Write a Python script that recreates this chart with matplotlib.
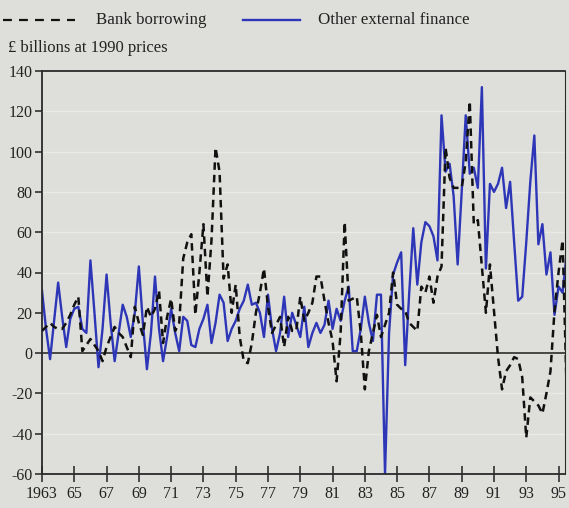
import numpy as np
import matplotlib.pyplot as plt
from matplotlib.lines import Line2D

# Quarterly observations, 1963 Q1 onwards, £ billions at 1990 prices
start_year = 1963
bank_borrowing = [
    11, 13, 15, 13,    # 1963
    12, 12, 15, 19,    # 1964
    24, 28, 1, 4,      # 1965
    7, 4, 1, -4,       # 1966
    3, 8, 13, 10,      # 1967
    8, 3, -2, 23,      # 1968
    15, 9, 23, 18,     # 1969
    22, 31, 5, 18,     # 1970
    27, 11, 15, 47,    # 1971
    55, 59, 19, 40,    # 1972
    64, 28, 56, 102,   # 1973
    90, 37, 44, 20,    # 1974
    34, 8, -4, -5,     # 1975
    5, 20, 30, 42,     # 1976
    23, 10, 14, 18,    # 1977
    3, 18, 11, 11,     # 1978
    28, 16, 20, 25,    # 1979
    38, 38, 26, 15,    # 1980
    6, -14, 10, 65,    # 1981
    26, 27, 28, 10,    # 1982
    -18, 1, 10, 19,    # 1983
    8, 14, 20, 40,     # 1984
    24, 22, 21, 15,    # 1985
    13, 11, 33, 30,    # 1986
    38, 25, 38, 43,    # 1987
    102, 87, 82, 82,   # 1988
    82, 95, 125, 64,   # 1989
    66, 43, 20, 44,    # 1990
    21, -2, -18, -9,   # 1991
    -6, -2, -3, -12,   # 1992
    -42, -22, -24, -26,  # 1993
    -30, -20, -9, 21,  # 1994
    40, 56, -18,       # 1995
]
other_external = [
    31, 12, -3, 16,    # 1963
    35, 18, 3, 17,     # 1964
    22, 23, 12, 10,    # 1965
    46, 20, -7, 12,    # 1966
    39, 15, -4, 10,    # 1967
    24, 18, 8, 20,     # 1968
    43, 15, -8, 10,    # 1969
    38, 12, -4, 8,     # 1970
    22, 10, 1, 18,     # 1971
    16, 4, 3, 12,      # 1972
    17, 24, 5, 15,     # 1973
    29, 25, 6, 12,     # 1974
    16, 22, 26, 34,    # 1975
    24, 25, 20, 8,     # 1976
    29, 12, 1, 10,     # 1977
    28, 8, 20, 14,     # 1978
    8, 23, 3, 10,      # 1979
    15, 10, 14, 26,    # 1980
    12, 22, 16, 26,    # 1981
    33, 1, 1, 12,      # 1982
    28, 15, 6, 29,     # 1983
    29, -60, 10, 39,   # 1984
    45, 50, -6, 30,    # 1985
    62, 34, 55, 65,    # 1986
    63, 58, 46, 118,   # 1987
    90, 94, 78, 44,    # 1988
    80, 118, 89, 92,   # 1989
    82, 132, 42, 84,   # 1990
    80, 84, 92, 72,    # 1991
    85, 55, 26, 28,    # 1992
    55, 85, 108, 54,   # 1993
    64, 39, 50, 19,    # 1994
    33, 30, 49,        # 1995
]
series_names = ['Bank borrowing', 'Other external finance']
year_ticks = list(range(1963, 1997, 2))
year_labels = ['1963'] + [str(y)[2:] for y in year_ticks[1:]]
value_ticks = list(range(-60, 141, 20))

quarters = start_year + np.arange(len(other_external)) / 4.0

bg = '#dedfdb'
ink = '#222222'
blue = '#2e36b8'
plt.rcParams['font.family'] = ['Liberation Serif', 'DejaVu Serif']
plt.rcParams['font.size'] = 11.5
plt.rcParams['axes.unicode_minus'] = False

W, H = 569, 508
fig = plt.figure(figsize=(W / 100, H / 100), dpi=100, facecolor=bg)
ax = fig.add_axes([42 / W, 1 - 474 / H, (565 - 42) / W, (474 - 71) / H])
ax.set_facecolor(bg)

# faint horizontal rules
for v in value_ticks:
    ax.axhline(v, color='#e9e9e6', lw=1.0, zorder=0)
ax.axhline(0, color='#3a3a3a', lw=1.3, zorder=1)

ax.plot(quarters, bank_borrowing, color='#111111', lw=1.8,
        dashes=(3.0, 2.0), zorder=3)
ax.plot(quarters, other_external, color=blue, lw=1.7, zorder=2)

ax.set_xlim(1963, 1995.4)
ax.set_ylim(-60, 140)
ax.set_xticks(year_ticks)
ax.set_xticklabels(year_labels)
ax.set_yticks(value_ticks)
ax.tick_params(axis='x', direction='inout', length=12, width=1.1,
               pad=3, colors=ink)
ax.tick_params(axis='y', direction='out', length=5, width=1.1,
               pad=2, colors=ink)
for side in ['left', 'bottom', 'top', 'right']:
    ax.spines[side].set_color('#2a2a2a')
    ax.spines[side].set_linewidth(1.3)
ax.spines['right'].set_linewidth(0.8)

fig.text(8 / W, 1 - 48 / H, '£ billions at 1990 prices',
         ha='left', va='center', color=ink, fontsize=12)

# key row across the top
key_y = 1 - 20 / H
fig.add_artist(Line2D([3 / W, 75 / W], [key_y, key_y], color='#111111',
                      lw=1.6, dashes=(4.0, 3.2)))
fig.text(96 / W, key_y, series_names[0], ha='left', va='center',
         color=ink, fontsize=12.2)
fig.add_artist(Line2D([243 / W, 300 / W], [key_y, key_y], color=blue,
                      lw=1.7))
fig.text(318 / W, key_y, series_names[1], ha='left', va='center',
         color=ink, fontsize=12.2)

fig.savefig('out.png', dpi=100, facecolor=bg)
